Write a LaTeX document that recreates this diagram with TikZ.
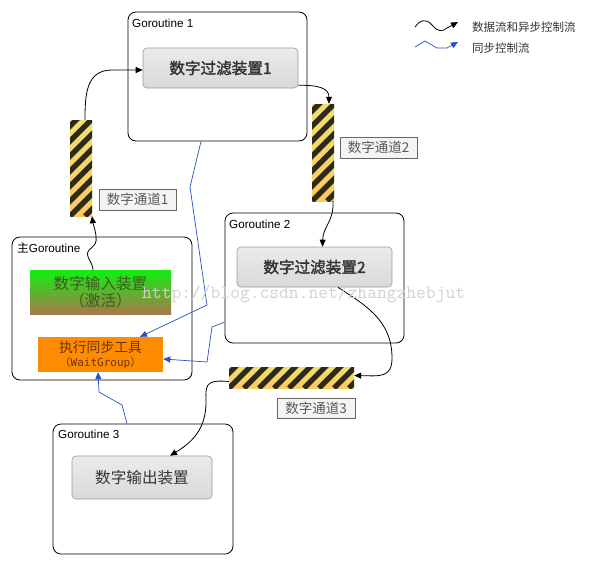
\documentclass[tikz,border=0pt]{standalone}
\usepackage{fontspec}
\setmainfont{Liberation Sans}
\newfontfamily\cjk{Noto Sans CJK SC}[AutoFakeBold=2]
\newfontfamily\wgmono{DejaVu Sans Mono}
\usetikzlibrary{arrows.meta}
\definecolor{stripeD}{HTML}{2E2A1A}
\definecolor{stripeYa}{HTML}{EEE070}
\definecolor{stripeYb}{HTML}{FFC860}
\definecolor{linkblue}{HTML}{2850C8}
\definecolor{devtop}{HTML}{EBEBEB}
\definecolor{devbot}{HTML}{D9D9D9}
\definecolor{devborder}{HTML}{9A9A9A}
\definecolor{ingreen}{HTML}{11EE11}
\definecolor{inbrown}{HTML}{A8784A}
\definecolor{intext}{HTML}{3D5C1F}
\definecolor{wgfill}{HTML}{FF8C00}
\definecolor{wgtext}{HTML}{6B3300}
\definecolor{labfill}{HTML}{F4F4F4}
\tikzset{
  gbox/.style={draw=black, line width=0.8pt, rounded corners=8pt, fill=white, inner sep=0pt},
  devbox/.style={draw=devborder, line width=0.6pt, rounded corners=4pt, top color=devtop, bottom color=devbot, text=black!80, inner sep=0pt, font=\cjk\fontsize{15.6}{18}\selectfont},
  glabel/.style={anchor=base west, inner sep=0pt, font=\fontsize{11.7}{13}\selectfont},
  chanlabel/.style={draw=black!60, line width=0.5pt, fill=labfill, text=black!65, inner sep=0pt, font=\cjk\fontsize{13.5}{15}\selectfont},
  channel/.style={inner sep=0pt, path picture={
      \shade[top color=stripeYa, bottom color=stripeYb] (path picture bounding box.south west) rectangle (path picture bounding box.north east);
      \foreach \k in {-12,...,12}
        \draw[stripeD, line width=5.3pt] ([xshift={\k*15pt}]path picture bounding box.south west) -- ++(200pt,200pt);
  }},
  flow/.style={draw=black, line width=0.8pt, -{Triangle[length=7pt,width=6pt]}},
  sync/.style={draw=linkblue, line width=0.7pt, -{Triangle[length=7pt,width=6pt]}},
  legtext/.style={anchor=west, inner sep=0pt, text=black!80, font=\cjk\fontsize{11.5}{13}\selectfont},
}
\begin{document}
\begin{tikzpicture}[x=1pt,y=-1pt]
\useasboundingbox (0,0) rectangle (593,565);
% goroutine boxes
\node[gbox, minimum width=179pt, minimum height=129pt] (g1) at (217.5,76.5) {};
\node[gbox, minimum width=179pt, minimum height=130pt] (g2) at (314.5,278) {};
\node[gbox, minimum width=180pt, minimum height=143pt] (gm) at (102,308.5) {};
\node[gbox, minimum width=180pt, minimum height=130pt] (g3) at (143,489) {};
\node[glabel] (g1l) at (132,27) {Goroutine 1};
\node[glabel] (g2l) at (229,228) {Goroutine 2};
\node[glabel] (gml) at (17,252) {{\cjk 主}Goroutine};
\node[glabel] (g3l) at (58,438) {Goroutine 3};
% devices
\node[devbox, minimum width=155pt, minimum height=40pt] (f1) at (220.5,68) {\bfseries 数字过滤装置1};
\node[devbox, minimum width=155pt, minimum height=40pt] (f2) at (314.5,267) {\bfseries 数字过滤装置2};
\node[devbox, minimum width=140pt, minimum height=43pt] (out) at (142,477.5) {数字输出装置};
\node[inner sep=0pt, minimum width=141pt, minimum height=44pt, top color=ingreen, bottom color=inbrown, text=intext, align=center, font=\cjk\fontsize{15.6}{17}\selectfont] (in) at (100.5,292) {数字输入装置\\（激活）};
\node[inner sep=0pt, minimum width=125pt, minimum height=35pt, fill=wgfill, text=wgtext, align=center, font=\cjk\fontsize{13.8}{15}\selectfont] (wg) at (100.5,354.5) {执行同步工具\\[-1pt]{\fontsize{11}{12}\selectfont （{\wgmono WaitGroup}）}};
% channels
\node[channel, minimum width=22pt, minimum height=96pt] (c1) at (81,168) {};
\node[channel, minimum width=22pt, minimum height=97pt] (c2) at (323,152.5) {};
\node[channel, minimum width=125pt, minimum height=21pt] (c3) at (291.5,377.5) {};
\node[chanlabel, minimum width=77pt, minimum height=21pt] (l1) at (137.5,199.5) {数字通道1};
\node[chanlabel, minimum width=77pt, minimum height=21pt] (l2) at (378.5,147.5) {数字通道2};
\node[chanlabel, minimum width=78pt, minimum height=20pt] (l3) at (316,408) {数字通道3};
% data flow
\draw[flow] ([xshift=-7.5pt]in.north) .. controls (93,262) and (84,256) .. (89,250) .. controls (95,245) and (97,243) .. (96,236) .. controls (95,228) and (93,224) .. ([xshift=11pt]c1.south);
\draw[flow] ([xshift=4pt]c1.north) .. controls (85,95) and (86,70) .. (112,70) -- ([yshift=-2pt]f1.west);
\draw[flow] ([yshift=3pt]f1.south east) .. controls (318,85) and (329,88) .. ([xshift=6pt]c2.north);
\draw[flow] ([xshift=10pt]c2.south) .. controls (334,222) and (323,226) .. ([xshift=8pt]f2.north);
\draw[flow] ([xshift=23.5pt]f2.south) .. controls (365,305) and (392,320) .. (392,358) .. controls (392,378) and (380,376) .. ([yshift=2pt]c3.east);
\draw[flow] ([yshift=-4pt]c3.west) .. controls (210,380) and (205,382) .. (206,398) .. controls (207,425) and (196,440) .. ([xshift=28pt]out.north);
% sync flow
\draw[sync] ([xshift=-16.5pt]g1.south) -- (190,187) -- (207,305) -- ([xshift=39.5pt]wg.north);
\draw[sync] ([yshift=-44pt]g2.west) -- (212,327) -- (207,362) -- ([yshift=-4.5pt]wg.east);
\draw[sync] ([xshift=-16pt]g3.north) -- (122,405) -- (99,392) -- ([xshift=-2.5pt]wg.south);
% legend
\coordinate (la) at (415,27);
\coordinate (lb) at (458,22);
\coordinate (lc) at (415,47);
\coordinate (ld) at (458,42);
\draw[flow] (la) .. controls (420,20) and (426,18) .. (432,25) .. controls (438,32) and (442,32) .. (447,28) -- (lb);
\draw[sync] (lc) -- (425,41) -- (437,48) -- (447,48) -- (ld);
\node[legtext] (t1) at (472,27.5) {数据流和异步控制流};
\node[legtext] (t2) at (472,48) {同步控制流};
% watermark
\node[anchor=base west, inner sep=0pt, text=black!18, font=\ttfamily\fontsize{19}{19}\selectfont] (wm) at (142,298) {http://blog.csdn.net/zhangzhebjut};
\end{tikzpicture}
\end{document}
